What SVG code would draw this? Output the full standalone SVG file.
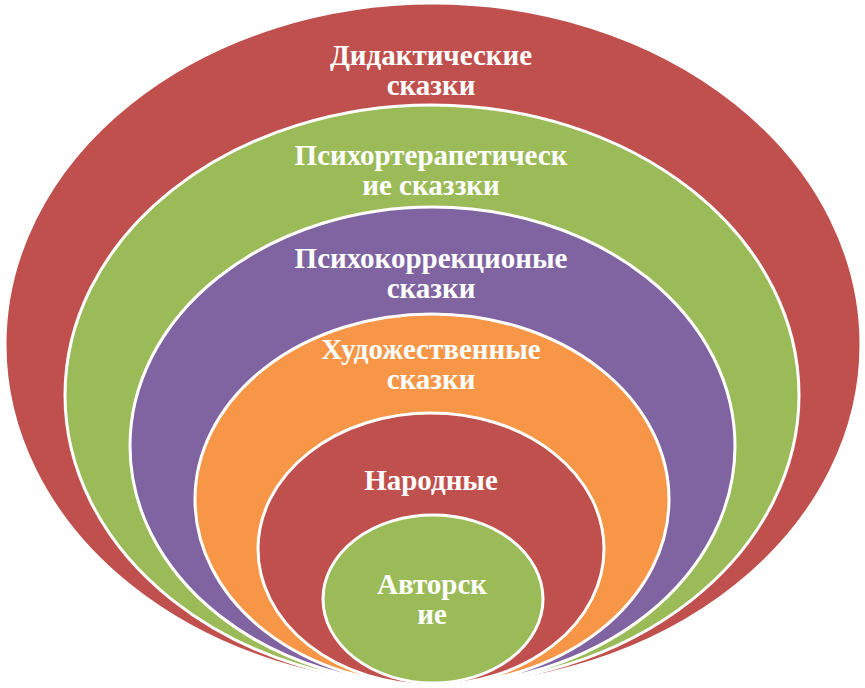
<svg xmlns="http://www.w3.org/2000/svg" width="865" height="688" viewBox="0 0 865 688">
<style>
.ring{stroke:#FFFFFF;stroke-width:3}
.red{fill:#C0504D}
.green{fill:#9BBB59}
.purple{fill:#8064A2}
.orange{fill:#F79646}
</style>
<rect width="865" height="688" fill="#FFFFFF"/>
<g font-family="'Liberation Serif', 'Times New Roman', serif" font-weight="bold" font-size="29" fill="#FFFFFF" text-anchor="middle">
<g id="n-didakticheskie">
<ellipse class="ring red" cx="433" cy="344.5" rx="428" ry="341.5"/>
<text x="431" y="65">Дидактические</text>
<text x="431" y="95">сказки</text>
</g>
<g id="n-psihoterapevticheskie">
<ellipse class="ring green" cx="432" cy="395" rx="367" ry="290"/>
<text x="431" y="165">Психортерапетическ</text>
<text x="431" y="195">ие сказзки</text>
</g>
<g id="n-psihokorrektsionnye">
<ellipse class="ring purple" cx="432.5" cy="446" rx="302.5" ry="239"/>
<text x="431" y="268">Психокоррекционые</text>
<text x="431" y="298">сказки</text>
</g>
<g id="n-hudozhestvennye">
<ellipse class="ring orange" cx="432" cy="499.5" rx="237" ry="185.5"/>
<text x="431" y="359">Художественные</text>
<text x="431" y="389">сказки</text>
</g>
<g id="n-narodnye">
<ellipse class="ring red" cx="431" cy="549" rx="173" ry="136"/>
<text x="431" y="490">Народные</text>
</g>
<g id="n-avtorskie">
<ellipse class="ring green" cx="433" cy="599" rx="110" ry="84"/>
<text x="432" y="594">Авторск</text>
<text x="432" y="624">ие</text>
</g>
</g>
<g id="connectors"></g>
</svg>
